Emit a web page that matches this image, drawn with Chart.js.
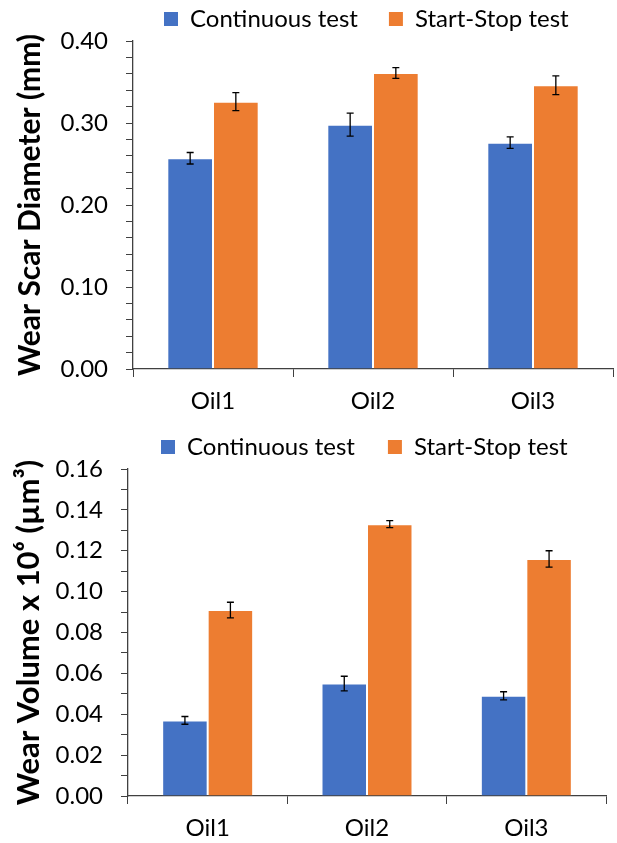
<!DOCTYPE html>
<html>
<head>
<meta charset="utf-8">
<script src="https://cdn.jsdelivr.net/npm/chart.js@4.4.1/dist/chart.umd.min.js"></script>
<style>
  html, body { margin: 0; padding: 0; background: #fff; }
  #wrap { position: relative; width: 617px; height: 843px; }
  #c1 { position: absolute; left: 0; top: 0; }
  #c2 { position: absolute; left: 0; top: 425px; }
</style>
</head>
<body>
<div id="wrap">
  <canvas id="c1" width="617" height="425"></canvas>
  <canvas id="c2" width="617" height="418"></canvas>
</div>
<script>
// ---- data ----
const categories = ['Oil1', 'Oil2', 'Oil3'];
const seriesNames = ['Continuous test', 'Start-Stop test'];

const continuousDiam = [0.257, 0.298, 0.276];
const continuousDiamErr = [0.007, 0.014, 0.007];
const startStopDiam = [0.326, 0.361, 0.346];
const startStopDiamErr = [0.011, 0.0065, 0.0115];

const continuousVol = [0.037, 0.055, 0.049];
const continuousVolErr = [0.0019, 0.0036, 0.002];
const startStopVol = [0.091, 0.133, 0.116];
const startStopVolErr = [0.0038, 0.0017, 0.004];

const diamTicks = { min: 0, max: 0.40, step: 0.02, labelEvery: 0.10 };
const volTicks = { min: 0, max: 0.16, step: 0.01, labelEvery: 0.02 };

// ---- style ----
const BLUE = '#4472C4';
const ORANGE = '#ED7D31';
const SEAM = 'rgba(255,255,255,0.22)';
const AXIS = '#404040';
const FONT = 'Lato, "Open Sans", sans-serif';

const errorBars = {
  id: 'errorBars',
  afterDatasetsDraw(chart) {
    const ctx = chart.ctx;
    const y = chart.scales.y;
    ctx.save();
    ctx.strokeStyle = '#000';
    ctx.lineWidth = 1.3;
    chart.data.datasets.forEach((ds, i) => {
      const meta = chart.getDatasetMeta(i);
      meta.data.forEach((bar, j) => {
        const v = ds.data[j], e = ds.errors[j];
        const x = bar.x;
        const yt = y.getPixelForValue(v + e);
        const yb = y.getPixelForValue(v - e);
        const cw = 3.5;
        ctx.beginPath();
        ctx.moveTo(x, yt); ctx.lineTo(x, yb);
        ctx.moveTo(x - cw, yt); ctx.lineTo(x + cw, yt);
        ctx.moveTo(x - cw, yb); ctx.lineTo(x + cw, yb);
        ctx.stroke();
      });
    });
    ctx.restore();
  }
};

function makeChart(canvasId, blueVals, blueErr, orangeVals, orangeErr, tk, title, cfg) {
  return new Chart(document.getElementById(canvasId), {
    type: 'bar',
    data: {
      labels: categories,
      datasets: [
        { label: seriesNames[0], data: blueVals, errors: blueErr, backgroundColor: BLUE,
          borderColor: SEAM, borderWidth: 1,
          categoryPercentage: 0.571, barPercentage: 1.0 },
        { label: seriesNames[1], data: orangeVals, errors: orangeErr, backgroundColor: ORANGE,
          borderColor: SEAM, borderWidth: 1,
          categoryPercentage: 0.571, barPercentage: 1.0 }
      ]
    },
    options: {
      responsive: false,
      animation: false,
      layout: { padding: { left: 0, right: cfg.padRight, top: cfg.padTop, bottom: 0 } },
      plugins: {
        legend: {
          position: 'top',
          fullSize: false,
          align: 'start',
          labels: {
            color: '#000',
            font: { family: FONT, size: 24 },
            boxWidth: 14, boxHeight: 14,
            padding: cfg.legendPad,
            generateLabels(chart) {
              return chart.data.datasets.map((ds, i) => ({
                text: ds.label, fillStyle: ds.backgroundColor, strokeStyle: ds.backgroundColor,
                lineWidth: 0, hidden: false, datasetIndex: i, fontColor: '#000'
              }));
            }
          }
        },
        tooltip: { enabled: false }
      },
      scales: {
        x: {
          grid: { offset: true, drawOnChartArea: false, drawTicks: true, tickLength: 8, color: AXIS, lineWidth: 1 },
          border: { color: AXIS, width: 1.3 },
          ticks: { color: '#000', font: { family: FONT, size: 24 }, padding: cfg.xPad },
          afterFit(s) { s.height = cfg.xHeight; }
        },
        y: {
          min: tk.min, max: tk.max,
          grid: { drawOnChartArea: false, drawTicks: true, tickLength: 7, color: AXIS, lineWidth: 1 },
          border: { color: AXIS, width: 1.3 },
          ticks: {
            stepSize: tk.step,
            color: '#000',
            font: { family: FONT, size: 24 },
            padding: 18,
            autoSkip: false,
            callback(v) {
              const r = v / tk.labelEvery;
              return Math.abs(r - Math.round(r)) < 1e-6 ? v.toFixed(2) : '';
            }
          },
          title: {
            display: true, text: title, color: '#000',
            font: { family: FONT, size: cfg.titleSize, weight: 'bold', lineHeight: 1.2 },
            padding: { top: cfg.titleX - cfg.titleSize * 0.6, bottom: 0 }
          },
          afterFit(s) { s.width = cfg.axisX; }
        }
      }
    },
    plugins: [errorBars]
  });
}

makeChart('c1', continuousDiam, continuousDiamErr, startStopDiam, startStopDiamErr, diamTicks,
  'Wear Scar Diameter (mm)', { padRight: 4, padTop: -24, legendPad: 31, axisX: 133, titleX: 30, titleSize: 30, xHeight: 56, xPad: 10 });
makeChart('c2', continuousVol, continuousVolErr, startStopVol, startStopVolErr, volTicks,
  'Wear Volume x 10\u2076 (\u00B5m\u00B3)', { padRight: 11, padTop: -23, legendPad: 33, axisX: 128, titleX: 28.5, titleSize: 31, xHeight: 47, xPad: 10 });
</script>
</body>
</html>
